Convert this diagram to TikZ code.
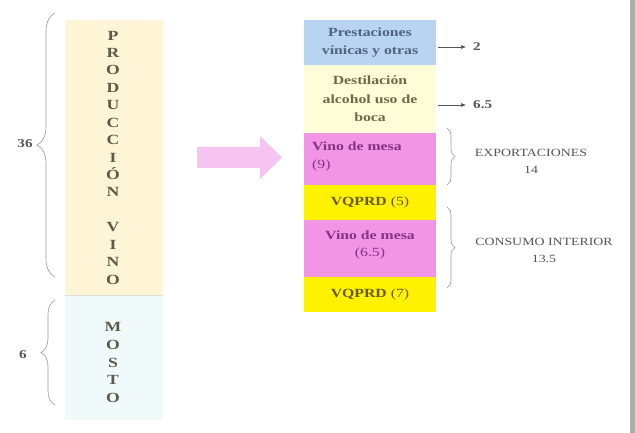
\documentclass[tikz,border=0pt]{standalone}
\usepackage{fontspec}
\setmainfont{Liberation Serif}[FakeStretch=1.26]
\usetikzlibrary{decorations.pathreplacing,arrows.meta}
\definecolor{prodc}{HTML}{FDF5D5}
\definecolor{mostoc}{HTML}{F0FAFA}
\definecolor{presc}{HTML}{B8D4F2}
\definecolor{destc}{HTML}{FEFDD8}
\definecolor{vmc}{HTML}{F295E4}
\definecolor{vqc}{HTML}{FFF200}
\definecolor{arrowc}{HTML}{F6C4F1}
\definecolor{lettc}{HTML}{5E5A48}
\definecolor{labc}{HTML}{555555}
\definecolor{prestxt}{HTML}{51637E}
\definecolor{desttxt}{HTML}{6B6B4B}
\definecolor{vmtxt}{HTML}{843384}
\definecolor{vqtxt}{HTML}{6A5A10}
\tikzset{
  colbox/.style={inner sep=0pt, minimum width=98pt},
  rbox/.style={inner sep=0pt, minimum width=132pt, align=center, font=\fontsize{12.5}{17.5}\selectfont\bfseries},
  lettstack/.style={align=center, inner sep=0pt, text=lettc, font=\fontsize{14}{17.43}\selectfont\bfseries},
  bracel/.style={draw=gray!80, line width=0.6pt, decorate, decoration={brace, amplitude=#1}},
  lab/.style={text=labc, font=\fontsize{12}{14}\selectfont\bfseries, inner sep=1pt},
  rlab/.style={text=labc, align=center, inner sep=0pt, font=\fontsize{11}{17}\selectfont},
  smallarr/.style={draw=labc, line width=0.6pt, -{Latex[length=5pt,width=4pt]}}
}
\begin{document}
\begin{tikzpicture}[x=1pt,y=-1pt]
\useasboundingbox (0,0) rectangle (635,433);
\fill[white] (0,0) rectangle (635,433);
% right edge shadow
\fill[gray!65] (630,0) rectangle (635,433);
% left column
\node[colbox, fill=prodc, minimum height=275pt] (prod) at (114,157.5) {};
\node[colbox, fill=mostoc, minimum height=125pt] (mosto) at (114,357.5) {};
\draw[draw=black!12, line width=0.6pt] (prod.south west) -- (prod.south east);
\node[lettstack] (prodtxt) at (113,157.5) {P\\R\\O\\D\\U\\C\\C\\I\\Ó\\N\\[17.43pt]V\\I\\N\\O};
\node[lettstack, font=\fontsize{14}{17.8}\selectfont\bfseries] (mostotxt) at (113,362.5) {M\\O\\S\\T\\O};
% left braces
\draw[bracel=18pt] (55,277) -- (55,13);
\node[lab] (n36) at (25,144) {36};
\draw[bracel=14pt] (55,405) -- (55,300);
\node[lab] (n6) at (23,355) {6};
% pink arrow
\fill[arrowc] (197,147) -- (260,147) -- (260,136) -- (282,157.5) -- (260,179) -- (260,168) -- (197,168) -- cycle;
% right boxes
\node[rbox, fill=presc, minimum height=45pt, text=prestxt] (pres) at (370,42.5) {Prestaciones\\vínicas y otras};
\node[rbox, fill=destc, minimum height=68pt, text=desttxt, font=\fontsize{12.5}{18.5}\selectfont\bfseries] (dest) at (370,99) {Destilación\\alcohol uso de\\boca};
\node[rbox, fill=vmc, minimum height=52pt] (vm1) at (370,159) {};
\node[anchor=west, align=left, inner sep=0pt, text=vmtxt, font=\fontsize{12.5}{18}\selectfont] (vm1txt) at (312,156) {\textbf{Vino de mesa}\\(9)};
\node[rbox, fill=vqc, minimum height=35pt, text=vqtxt] (vq1) at (370,202.5) {VQPRD \textmd{(5)}};
\node[rbox, fill=vmc, minimum height=57pt] (vm2) at (370,248.5) {};
\node[align=center, inner sep=0pt, text=vmtxt, font=\fontsize{12.5}{17}\selectfont] (vm2txt) at (370,244.5) {\textbf{Vino de mesa}\\(6.5)};
\node[rbox, fill=vqc, minimum height=35pt, text=vqtxt] (vq2) at (370,294.5) {VQPRD \textmd{(7)}};
% arrows to values
\node[lab, anchor=west] (n2) at (472,47) {2};
\node[lab, anchor=west] (n65) at (472,105) {6.5};
\draw[smallarr] ([xshift=2pt]pres.east |- n2) -- ([xshift=-6pt]n2.west);
\draw[smallarr] ([xshift=2pt]dest.east |- n65) -- ([xshift=-6pt]n65.west);
% right braces
\draw[bracel=8pt] (447,128) -- (447,185);
\node[rlab] (exp) at (531,161.5) {EXPORTACIONES\\14};
\draw[bracel=8pt] (447,207) -- (447,288);
\node[rlab] (cons) at (544,250.5) {CONSUMO INTERIOR\\13.5};
\end{tikzpicture}
\end{document}
